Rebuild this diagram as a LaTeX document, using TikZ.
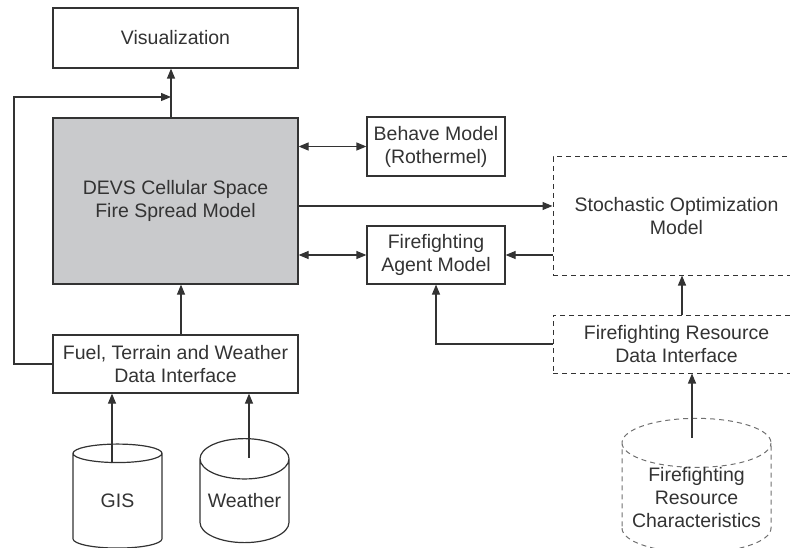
\documentclass[tikz,border=0pt]{standalone}
\usepackage{fontspec}
\setmainfont{Liberation Sans}
\usetikzlibrary{arrows.meta,shapes.geometric}
\definecolor{ink}{HTML}{333333}
\definecolor{modelgray}{HTML}{C9CACC}
\begin{document}
\begin{tikzpicture}[x=1pt,y=-1pt,line width=1.2pt,
    box/.style={draw=ink,rectangle,align=center,inner sep=0pt,text=ink,
      font=\fontsize{19.5}{23}\selectfont},
    dbox/.style={box,dashed,dash pattern=on 5pt off 4pt,line width=1pt},
    can/.style={draw=ink,cylinder,shape border rotate=90,align=center,
      inner sep=0pt,text=ink,font=\fontsize{19.5}{23}\selectfont},
    arr/.style={draw=ink,-{Triangle[length=10pt,width=8pt]}},
    dbl/.style={draw=ink,{Triangle[length=10pt,width=8pt]}-{Triangle[length=10pt,width=8pt]}}]

      \useasboundingbox (0,0) rectangle (790,548);
      \clip (0,0) rectangle (790,548);

      \node[box, minimum width=245, minimum height=60] (vis) at (175.5,38) {Visualization};
      \node[box, fill=modelgray, minimum width=245, minimum height=166] (devs) at (175.5,201)
        {DEVS Cellular Space\\Fire Spread Model};
      \node[box, minimum width=245, minimum height=58] (fuel) at (175.5,364)
        {Fuel, Terrain and Weather\\Data Interface};
      \node[box, minimum width=138, minimum height=59] (behave) at (436,146.5)
        {Behave Model\\(Rothermel)};
      \node[box, minimum width=138, minimum height=58] (agent) at (436,255)
        {Firefighting\\Agent Model};
      \node[dbox, minimum width=247, minimum height=118] (stoch) at (676.5,216)
        {Stochastic Optimization\\Model};
      \node[dbox, minimum width=247, minimum height=58] (frdi) at (676.5,344)
        {Firefighting Resource\\Data Interface};

      \begin{scope}[every node/.style={can, minimum width=89, minimum height=104, aspect=0.55}]
        \node (gis)     at (117.5,501) {GIS};
        \node (weather) at (244.5,501) {Weather};
      \end{scope}
      \node[can, dashed, dash pattern=on 5pt off 4pt, line width=1pt, draw=ink!70,
        minimum width=149, minimum height=125, aspect=0.38] (frc) at (696.5,498)
        {Firefighting\\Resource\\Characteristics};

      \coordinate (join) at (171,97);
      \coordinate (bend) at (14,364);

      % vertical links
      \draw[arr] ([xshift=-4.5pt]devs.north) -- ([xshift=-4.5pt]vis.south);
      \draw[arr] (fuel.west) -- (bend) |- (join);
      \draw[arr] ([xshift=5.5pt]fuel.north) -- ([xshift=5.5pt]devs.south);
      \draw[arr] ([xshift=5.5pt]frdi.north) -- ([xshift=5.5pt]frdi.north |- stoch.south);
      \draw[arr] (frdi.west) -| (agent.south);

      % horizontal links
      \draw[dbl] (devs.east |- behave) -- (behave.west);
      \draw[arr] ([yshift=-5pt]devs.east) -- ([yshift=-5pt]devs.east -| stoch.west);
      \draw[dbl] (devs.east |- agent) -- (agent.west);
      \draw[arr] (stoch.west |- agent) -- (agent.east);

      % data sources
      \draw[arr] ([xshift=-4.5pt,yshift=-20pt]frc.top) -- ([xshift=-4.5pt]frc.top |- frdi.south);
      \draw[arr] ([xshift=-5.5pt,yshift=-20pt]gis.top) -- ([xshift=-5.5pt]gis.top |- fuel.south);
      \draw[arr] ([xshift=4.5pt,yshift=-20pt]weather.top) -- ([xshift=4.5pt]weather.top |- fuel.south);

    \end{tikzpicture}
\end{document}
